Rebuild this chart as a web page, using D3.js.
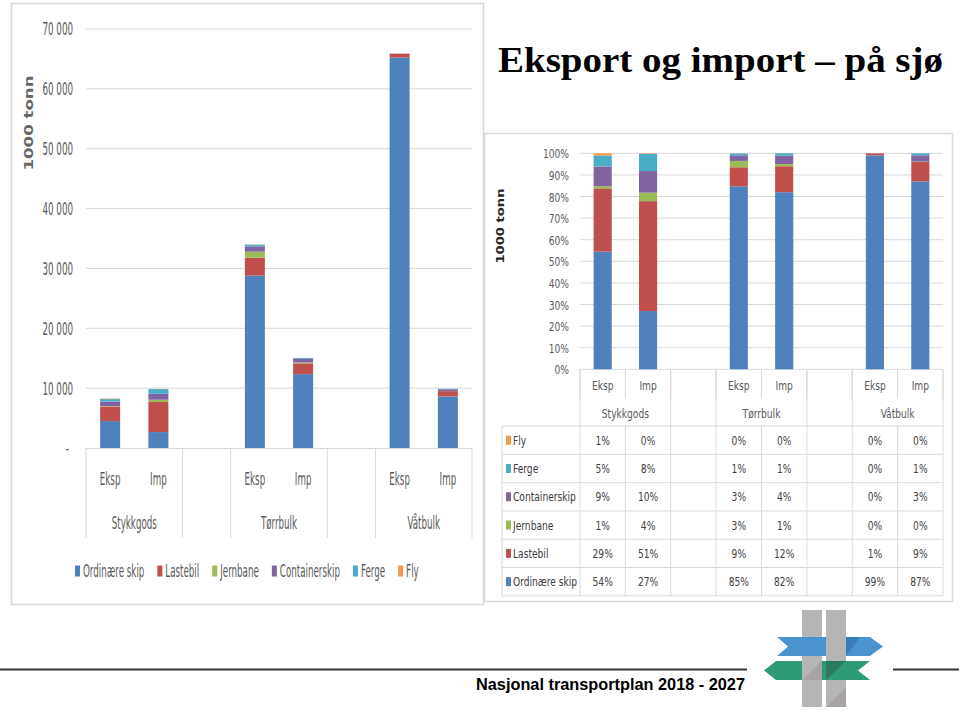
<!DOCTYPE html>
<html><head><meta charset="utf-8">
<script src="https://cdn.jsdelivr.net/npm/d3@7"></script>
<style>body{margin:0;background:#fff} svg{display:block}</style>
</head><body>
<svg id="c" width="959" height="711"></svg>
<script>
// ---------- DATA ----------
const groups = ["Stykkgods", "Tørrbulk", "Våtbulk"];
const flows = ["Eksp", "Imp"];
const seriesNames = ["Ordinære skip", "Lastebil", "Jernbane", "Containerskip", "Ferge", "Fly"];
const seriesColors = ["#4F81BD", "#C0504D", "#9BBB59", "#8064A2", "#4BACC6", "#F79646"];
// 1000 tonn; order: Stykkgods Eksp, Stykkgods Imp, Tørrbulk Eksp, Tørrbulk Imp, Våtbulk Eksp, Våtbulk Imp
const ordinaereSkip = [4500, 2660, 28800, 12340, 65240, 8610];
const lastebil      = [2420, 5020, 3000, 1810, 620, 890];
const jernbane      = [85, 390, 1000, 150, 0, 20];
const containerskip = [750, 985, 880, 600, 30, 290];
const ferge         = [420, 790, 290, 150, 10, 90];
const fly           = [85, 20, 30, 0, 0, 0];
const leftTicks = [0, 10000, 20000, 30000, 40000, 50000, 60000, 70000];
const rightTicks = [0, 0.1, 0.2, 0.3, 0.4, 0.5, 0.6, 0.7, 0.8, 0.9, 1];
const titleText = "Eksport og import – på sjø";
const yLabel = "1000 tonn";
const footerText = "Nasjonal transportplan 2018 - 2027";

// ---------- BUILD ----------
const seriesArrays = [ordinaereSkip, lastebil, jernbane, containerskip, ferge, fly];
const slots = [];
const rows = [];
groups.forEach((g, gi) => {
  flows.forEach((f, fi) => {
    const i = gi * flows.length + fi;
    const key = g + "|" + f;
    slots.push({key, group: g, flow: f});
    const r = {key, group: g, flow: f};
    seriesNames.forEach((s, si) => r[s] = seriesArrays[si][i]);
    rows.push(r);
  });
  if (gi < groups.length - 1) slots.push({key: g + "|blank", group: null, flow: null});
});
const color = d3.scaleOrdinal(seriesNames, seriesColors);
const NARROW = "'Liberation Sans Narrow','Arial Narrow','DejaVu Sans Condensed',sans-serif";
const svg = d3.select("#c");
const GRID = "#d9d9d9";

function sq(g, x, y, txt, o) {
  o = o || {};
  return g.append("text")
    .attr("transform", `translate(${x},${y}) scale(${o.sx || 1},1)`)
    .attr("text-anchor", o.anchor || "start")
    .style("font-family", o.family || NARROW)
    .style("font-size", (o.size || 13) + "px")
    .style("font-weight", o.weight || "normal")
    .attr("fill", o.fill || "#595959")
    .text(txt);
}

// panels
svg.append("rect").attr("x", 11.5).attr("y", 3.5).attr("width", 472).attr("height", 601)
  .attr("fill", "#fff").attr("stroke", GRID).attr("stroke-width", 1.5);
svg.append("rect").attr("x", 484.5).attr("y", 133.5).attr("width", 468).attr("height", 468)
  .attr("fill", "#fff").attr("stroke", GRID).attr("stroke-width", 1.5);

// ---------- LEFT CHART ----------
const L = svg.append("g");
const SXL = 0.57, FL = 17;
const xL = d3.scaleBand(slots.map(d => d.key), [86, 472]).paddingInner(0.585).paddingOuter(0.2925);
const yL = d3.scaleLinear([0, 70000], [448, 29]);
L.selectAll("line.grid").data(leftTicks.filter(d => d > 0)).join("line")
  .attr("x1", 86).attr("x2", 472).attr("y1", d => yL(d)).attr("y2", d => yL(d))
  .attr("stroke", GRID).attr("stroke-width", 1);
const axL = L.append("g").attr("transform", "translate(86,0)")
  .call(d3.axisLeft(yL).tickValues(leftTicks).tickSize(0)
    .tickFormat(d => d === 0 ? "-" : d3.format(",")(d).replace(/,/g, " ")));
axL.select(".domain").remove();
axL.selectAll("text")
  .attr("x", d => (d === 0 ? -17 : -13) / SXL)
  .attr("transform", `scale(${SXL},1)`)
  .attr("dy", "0.35em")
  .style("font-family", NARROW).style("font-size", FL + "px").attr("fill", "#595959");

const stackL = d3.stack().keys(seriesNames)(rows);
L.selectAll("g.ser").data(stackL).join("g").attr("fill", d => color(d.key))
  .selectAll("rect").data(d => d).join("rect")
  .attr("x", d => xL(d.data.key)).attr("width", xL.bandwidth())
  .attr("y", d => yL(d[1])).attr("height", d => yL(d[0]) - yL(d[1]));

// category axis
L.append("line").attr("x1", 86).attr("x2", 472).attr("y1", 448.5).attr("y2", 448.5).attr("stroke", GRID);
const stepL = xL.step();
const startL = 86;
const divL = [];
let cur = null;
slots.forEach((s, i) => { const grp = s.group || ("blank" + i); if (grp !== cur) { divL.push(i); cur = grp; } });
divL.push(slots.length);
divL.forEach(i => {
  const x = startL + i * stepL;
  L.append("line").attr("x1", x).attr("x2", x).attr("y1", 448).attr("y2", 538).attr("stroke", GRID);
});
slots.filter(s => s.flow).forEach(s => {
  sq(L, xL(s.key) + xL.bandwidth() / 2, 485, s.flow, {size: FL, sx: SXL, anchor: "middle"});
});
groups.forEach(g => {
  const ks = slots.filter(s => s.group === g);
  const cx = (xL(ks[0].key) + xL(ks[ks.length - 1].key) + xL.bandwidth()) / 2;
  sq(L, cx, 529, g, {size: FL, sx: SXL, anchor: "middle"});
});
// y label
L.append("text").attr("transform", "translate(33,123) rotate(-90)").attr("text-anchor", "middle")
  .style("font-family", "'DejaVu Sans',Verdana,sans-serif").style("font-weight", "bold").style("font-size", "12.5px")
  .attr("fill", "#666").attr("textLength", 95).attr("lengthAdjust", "spacingAndGlyphs").text(yLabel);
// legend
let lx = 75;
seriesNames.forEach(s => {
  L.append("rect").attr("x", lx).attr("y", 565.5).attr("width", 5).attr("height", 11).attr("fill", color(s));
  const t = sq(L, lx + 8, 577, s, {size: FL, sx: SXL});
  lx += 8 + t.node().getComputedTextLength() * SXL + 13;
});

// ---------- RIGHT CHART ----------
const R = svg.append("g");
const SXR = 0.78, FR = 13;
const xR = d3.scaleBand(slots.map(d => d.key), [580, 943]).paddingInner(0.6).paddingOuter(0.3);
const yR = d3.scaleLinear([0, 1], [369.3, 153.3]);
R.selectAll("line.grid").data(rightTicks).join("line")
  .attr("x1", 580).attr("x2", 943).attr("y1", d => yR(d)).attr("y2", d => yR(d))
  .attr("stroke", GRID).attr("stroke-width", 1);
const axR = R.append("g").attr("transform", "translate(580,0)")
  .call(d3.axisLeft(yR).tickValues(rightTicks).tickSize(0).tickFormat(d3.format(".0%")));
axR.select(".domain").remove();
axR.selectAll("text").attr("x", -11 / SXR).attr("dy", "0.35em")
  .attr("transform", `scale(${SXR},1)`)
  .style("font-family", NARROW).style("font-size", FR + "px").attr("fill", "#595959");

const stackR = d3.stack().keys(seriesNames).offset(d3.stackOffsetExpand)(rows);
R.selectAll("g.ser").data(stackR).join("g").attr("fill", d => color(d.key))
  .selectAll("rect").data(d => d).join("rect")
  .attr("x", d => xR(d.data.key)).attr("width", xR.bandwidth())
  .attr("y", d => yR(d[1])).attr("height", d => yR(d[0]) - yR(d[1]));

// header of data table
const stepR = xR.step();
const x0R = 580;
for (let i = 0; i <= slots.length; i++) {
  const x = x0R + i * stepR;
  R.append("line").attr("x1", x).attr("x2", x).attr("y1", 369).attr("y2", 399).attr("stroke", GRID);
}
divL.forEach(i => {
  const x = x0R + i * stepR;
  R.append("line").attr("x1", x).attr("x2", x).attr("y1", 369).attr("y2", 426).attr("stroke", GRID);
});
slots.filter(s => s.flow).forEach(s => {
  sq(R, xR(s.key) + xR.bandwidth() / 2, 389.5, s.flow, {size: FR, sx: SXR, anchor: "middle"});
});
groups.forEach(g => {
  const ks = slots.filter(s => s.group === g);
  const cx = (xR(ks[0].key) + xR(ks[ks.length - 1].key) + xR.bandwidth()) / 2;
  sq(R, cx, 417.5, g, {size: FR, sx: SXR, anchor: "middle"});
});
// table body
const rowH = 28.3, tTop = 426;
const tableOrder = seriesNames.slice().reverse();
for (let r = 0; r <= tableOrder.length; r++) {
  const y = tTop + r * rowH;
  R.append("line").attr("x1", 502).attr("x2", 943).attr("y1", y).attr("y2", y).attr("stroke", GRID);
}
[502].concat(d3.range(slots.length + 1).map(i => x0R + i * stepR)).forEach(x => {
  R.append("line").attr("x1", x).attr("x2", x).attr("y1", tTop).attr("y2", tTop + rowH * tableOrder.length).attr("stroke", GRID);
});
const pct = d3.format(".0%");
tableOrder.forEach((s, r) => {
  const cy = tTop + r * rowH + rowH / 2;
  R.append("rect").attr("x", 506).attr("y", cy - 4.5).attr("width", 5).attr("height", 9).attr("fill", color(s));
  sq(R, 513, cy + 4.5, s, {size: FR, sx: SXR, fill: "#404040"});
  const ser = stackR.find(d => d.key === s);
  ser.forEach(d => {
    sq(R, xR(d.data.key) + xR.bandwidth() / 2, cy + 4.5, pct(d[1] - d[0]), {size: FR, sx: SXR, anchor: "middle", fill: "#404040"});
  });
});
R.append("text").attr("transform", "translate(504,226) rotate(-90)").attr("text-anchor", "middle")
  .style("font-family", "'DejaVu Sans',Verdana,sans-serif").style("font-weight", "bold").style("font-size", "10.5px")
  .attr("fill", "#262626").attr("textLength", 75).attr("lengthAdjust", "spacingAndGlyphs").text(yLabel);

// ---------- TITLE ----------
svg.append("text").attr("x", 498).attr("y", 72)
  .style("font-family", "'Liberation Serif','Times New Roman',serif").style("font-weight", "bold").style("font-size", "36px")
  .attr("fill", "#000").attr("textLength", 445).attr("lengthAdjust", "spacingAndGlyphs").text(titleText);

// ---------- FOOTER ----------
svg.append("line").attr("x1", 0).attr("x2", 747).attr("y1", 669.5).attr("y2", 669.5).attr("stroke", "#333").attr("stroke-width", 2);
svg.append("line").attr("x1", 893).attr("x2", 959).attr("y1", 669.5).attr("y2", 669.5).attr("stroke", "#333").attr("stroke-width", 2);
svg.append("text").attr("x", 476).attr("y", 690)
  .style("font-family", "'Liberation Sans',Arial,sans-serif").style("font-weight", "bold").style("font-size", "17px")
  .attr("fill", "#000").attr("textLength", 269).attr("lengthAdjust", "spacingAndGlyphs").text(footerText);

// logo
const G = svg.append("g");
const post = "#b5b5b5";
G.append("rect").attr("x", 802).attr("y", 610).attr("width", 20).attr("height", 97).attr("fill", post);
G.append("polygon").attr("points", "777,637 870,637 883,646.5 870,656 777,656 788,646.5").attr("fill", "#4a93cf");
G.append("rect").attr("x", 826).attr("y", 610).attr("width", 20).attr("height", 97).attr("fill", post);
G.append("polygon").attr("points", "846,637 860,637 846,656").attr("fill", "#3b7db8");
G.append("polygon").attr("points", "776,661 870,661 858,670.5 870,680 776,680 764,670.5").attr("fill", "#2f9a78");
G.append("polygon").attr("points", "826,680 846,661 826,661").attr("fill", "#287a5f");
G.append("rect").attr("x", 802).attr("y", 661).attr("width", 20).attr("height", 19).attr("fill", post);
G.append("polygon").attr("points", "802,680 822,661 822,680").attr("fill", "#a9a3a3");
G.append("polygon").attr("points", "826,707 846,688 846,707").attr("fill", "#a9a3a3");
</script>
</body></html>
